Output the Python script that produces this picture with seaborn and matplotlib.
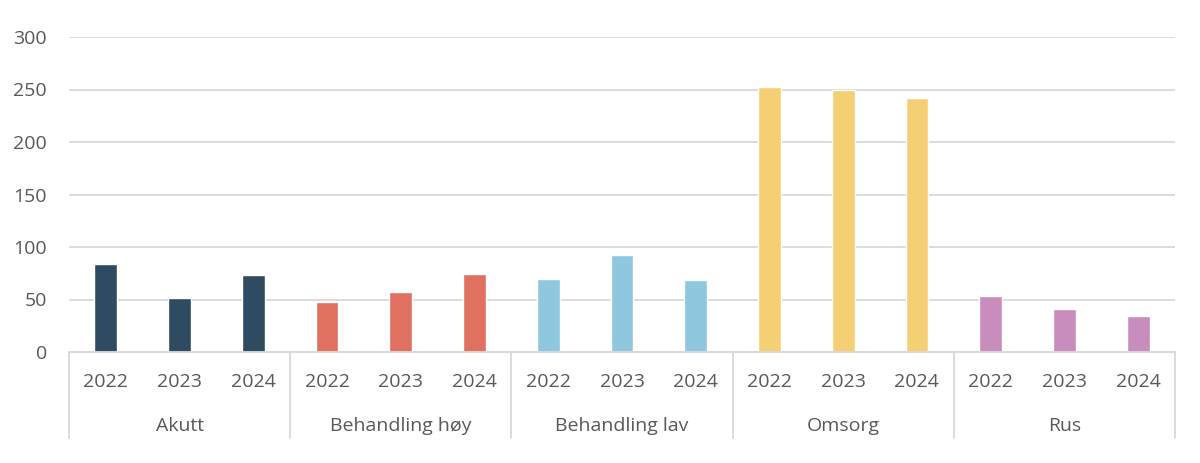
"""Grouped bar chart: three years per service area, one colour per area."""

import matplotlib

matplotlib.use('Agg')
import matplotlib.pyplot as plt
import matplotlib.transforms as mtransforms
import pandas as pd
import seaborn as sns

GROUPS = ['Akutt', 'Behandling høy', 'Behandling lav', 'Omsorg', 'Rus']
YEARS = ['2022', '2023', '2024']
VALUES = {
    'Akutt': [84, 51, 73],
    'Behandling høy': [48, 57, 74],
    'Behandling lav': [70, 92, 69],
    'Omsorg': [252, 250, 242],
    'Rus': [53, 41, 34],
}
COLORS = ['#2f4b62', '#e07060', '#8fc8de', '#f5cf74', '#c98dbd']
YTICKS = [0, 50, 100, 150, 200, 250, 300]

INK = '#595959'
GRID = '#d9d9d9'


def main() -> None:
    sns.set_theme(style='white')
    plt.rcParams['font.family'] = ['Open Sans', 'DejaVu Sans']

    rows = []
    for g in GROUPS:
        for y, v in zip(YEARS, VALUES[g]):
            rows.append({'key': f'{g}|{y}', 'group': g, 'year': y, 'value': v})
    df = pd.DataFrame(rows)

    fig = plt.figure(figsize=(12, 4.63), dpi=100)
    ax = fig.add_axes([69 / 1200, 111 / 463, 1106 / 1200, 315 / 463])

    sns.barplot(
        data=df,
        x='key',
        y='value',
        hue='group',
        palette=COLORS,
        order=list(df['key']),
        hue_order=GROUPS,
        dodge=False,
        width=0.31,
        legend=False,
        ax=ax,
        saturation=1,
    )

    ax.set_ylim(0, 300)
    ax.set_xlim(-0.5, len(df) - 0.5)
    ax.set_yticks(YTICKS)
    ax.set_yticklabels([str(t) for t in YTICKS])
    ax.yaxis.grid(True, color=GRID, linewidth=1.3)
    ax.set_axisbelow(True)
    for side in ('top', 'right', 'left'):
        ax.spines[side].set_visible(False)
    ax.spines['bottom'].set_color(GRID)
    ax.spines['bottom'].set_linewidth(1.3)
    ax.tick_params(axis='y', length=0, pad=16, labelsize=14, labelcolor=INK)
    ax.tick_params(axis='x', length=0, pad=15, labelsize=14, labelcolor=INK)
    ax.set_xticks(range(len(df)))
    ax.set_xticklabels(list(df['year']))
    ax.set_xlabel('')
    ax.set_ylabel('')

    # second label row and group separators below the axis
    trans = mtransforms.blended_transform_factory(ax.transData, ax.transAxes)
    n = len(YEARS)
    for i, g in enumerate(GROUPS):
        ax.text(
            i * n + (n - 1) / 2,
            -74 / 315,
            g,
            transform=trans,
            ha='center',
            va='center',
            fontsize=14,
            color=INK,
        )
    for i in range(len(GROUPS) + 1):
        x = i * n - 0.5
        ax.plot(
            [x, x],
            [0, -86 / 315],
            transform=trans,
            color=GRID,
            linewidth=1.3,
            clip_on=False,
        )

    fig.savefig('out.png', dpi=100)
    plt.close(fig)


if __name__ == '__main__':
    main()
